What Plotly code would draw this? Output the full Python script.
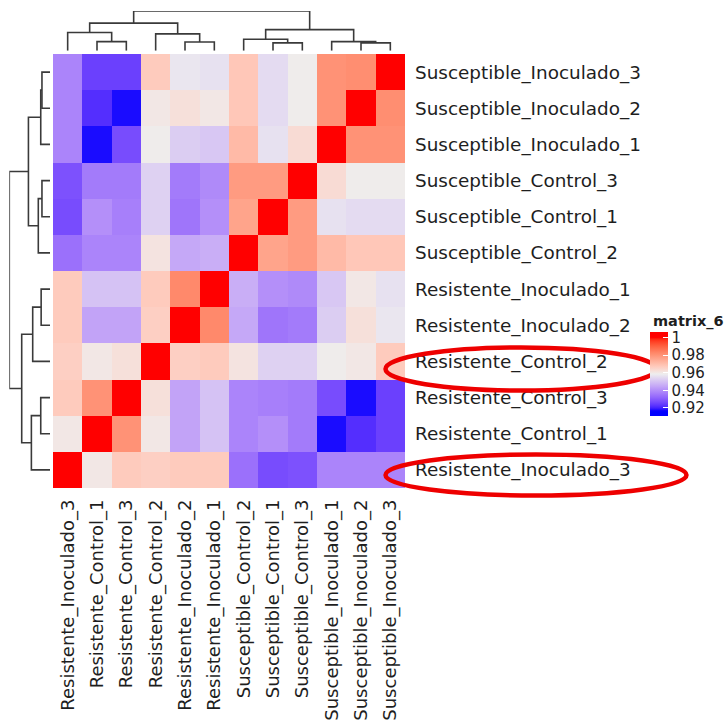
import numpy as np
import plotly.graph_objects as go

# ---------------- data ----------------
samples = [
    "Resistente_Inoculado_3", "Resistente_Control_1", "Resistente_Control_3",
    "Resistente_Control_2", "Resistente_Inoculado_2", "Resistente_Inoculado_1",
    "Susceptible_Control_2", "Susceptible_Control_1", "Susceptible_Control_3",
    "Susceptible_Inoculado_1", "Susceptible_Inoculado_2", "Susceptible_Inoculado_3",
]

# correlation rows, one per sample (same order as `samples`)
corr_rows = [
    [1.000, 0.960, 0.967, 0.966, 0.967, 0.967, 0.934, 0.927, 0.928, 0.938, 0.938, 0.938],
    [0.960, 1.000, 0.980, 0.960, 0.944, 0.950, 0.938, 0.940, 0.936, 0.918, 0.922, 0.925],
    [0.967, 0.980, 1.000, 0.962, 0.944, 0.950, 0.938, 0.937, 0.936, 0.927, 0.918, 0.925],
    [0.966, 0.960, 0.962, 1.000, 0.966, 0.967, 0.961, 0.953, 0.953, 0.959, 0.960, 0.967],
    [0.967, 0.944, 0.944, 0.966, 1.000, 0.982, 0.945, 0.935, 0.936, 0.952, 0.962, 0.957],
    [0.967, 0.950, 0.950, 0.967, 0.982, 1.000, 0.946, 0.940, 0.939, 0.951, 0.960, 0.956],
    [0.934, 0.938, 0.938, 0.961, 0.945, 0.946, 1.000, 0.976, 0.978, 0.971, 0.968, 0.968],
    [0.927, 0.940, 0.937, 0.953, 0.935, 0.940, 0.976, 1.000, 0.978, 0.956, 0.955, 0.955],
    [0.928, 0.936, 0.936, 0.953, 0.936, 0.939, 0.978, 0.978, 1.000, 0.963, 0.959, 0.959],
    [0.938, 0.918, 0.927, 0.959, 0.952, 0.951, 0.971, 0.956, 0.963, 1.000, 0.980, 0.980],
    [0.938, 0.922, 0.918, 0.960, 0.962, 0.960, 0.968, 0.955, 0.959, 0.980, 1.000, 0.981],
    [0.938, 0.925, 0.925, 0.967, 0.957, 0.956, 0.968, 0.955, 0.959, 0.980, 0.981, 1.000],
]

# hierarchical clustering merges: (left, right, height); "mN" = N-th merge
dendro_merges = [
    ("Resistente_Control_1", "Resistente_Control_3", 9.1),
    ("Resistente_Inoculado_3", "m0", 18.3),
    ("Resistente_Inoculado_2", "Resistente_Inoculado_1", 8.7),
    ("Resistente_Control_2", "m2", 17.0),
    ("m1", "m3", 27.8),
    ("Susceptible_Control_1", "Susceptible_Control_3", 7.9),
    ("Susceptible_Control_2", "m5", 11.5),
    ("Susceptible_Inoculado_2", "Susceptible_Inoculado_3", 7.9),
    ("Susceptible_Inoculado_1", "m7", 9.1),
    ("m6", "m8", 21.2),
    ("m4", "m9", 40.0),
]

legend_ticks = [0.92, 0.94, 0.96, 0.98, 1.0]
legend_ticktext = ["0.92", "0.94", "0.96", "0.98", "1"]
legend_title = "matrix_6"
color_min, color_max = 0.917, 1.0          # colour-mapping breaks
legend_min, legend_max = 0.9109, 1.0062    # extent of the legend bar

# ---------------- colour scale (LAB interpolation blue - #EEEEEE - red) ----------------
_M = np.array([[0.4124564, 0.3575761, 0.1804375],
               [0.2126729, 0.7151522, 0.0721750],
               [0.0193339, 0.1191920, 0.9503041]])
_W = np.array([0.95047, 1.0, 1.08883])


def to_lab(rgb):
    c = np.array(rgb, dtype=float) / 255
    lin = np.where(c <= 0.04045, c / 12.92, ((c + 0.055) / 1.055) ** 2.4)
    t = (_M @ lin) / _W
    f = np.where(t > 0.008856, np.cbrt(t), 7.787 * t + 16 / 116)
    return np.array([116 * f[1] - 16, 500 * (f[0] - f[1]), 200 * (f[1] - f[2])])


def from_lab(lab):
    L, a, b = lab
    fy = (L + 16) / 116
    f = np.array([fy + a / 500, fy, fy - b / 200])
    t = np.where(f ** 3 > 0.008856, f ** 3, (f - 16 / 116) / 7.787)
    lin = np.linalg.solve(_M, t * _W)
    lin = np.clip(lin, 0, 1)
    s = np.where(lin <= 0.0031308, 12.92 * lin, 1.055 * lin ** (1 / 2.4) - 0.055)
    s = np.clip(s, 0, 1) * 255
    return "rgb(%d,%d,%d)" % tuple(np.round(s).astype(int))


lab_blue, lab_mid, lab_red = to_lab((0, 0, 255)), to_lab((238, 238, 238)), to_lab((255, 0, 0))


def col_at(s):
    s = min(max(s, 0.0), 1.0)
    if s <= 0.5:
        lab = lab_blue + (lab_mid - lab_blue) * (s / 0.5)
    else:
        lab = lab_mid + (lab_red - lab_mid) * ((s - 0.5) / 0.5)
    return from_lab(lab)


colorscale = [[float(s), col_at(s)] for s in np.linspace(0, 1, 41)]

# legend colour scale over the (slightly wider) legend extent
legend_scale = []
for v in np.linspace(legend_min, legend_max, 61):
    s_leg = (v - legend_min) / (legend_max - legend_min)
    legend_scale.append([float(s_leg), col_at((v - color_min) / (color_max - color_min))])
legend_scale[0][0], legend_scale[-1][0] = 0.0, 1.0

# ---------------- matrix ----------------
z = np.array(corr_rows)
z = (z + z.T) / 2

# ---------------- dendrogram segments ----------------
pos = {name: float(i) for i, name in enumerate(samples)}
hgt = {name: 0.0 for name in samples}
seg_a, seg_h = [], []
for k, (l, r, h) in enumerate(dendro_merges):
    xl, xr = pos[l], pos[r]
    seg_a += [xl, xl, xr, xr, None]
    seg_h += [hgt[l], h, h, hgt[r], None]
    pos["m%d" % k] = (xl + xr) / 2
    hgt["m%d" % k] = h
root_h = dendro_merges[-1][2]

W, H = 725, 724
hx0, hx1 = 53 / W, 405 / W
hy0, hy1 = 1 - 488 / H, 1 - 54 / H
font = "DejaVu Sans"
txt = "#1e1e1e"
line_col = "#3a3a3a"

fig = go.Figure()
fig.add_trace(go.Heatmap(
    z=z, x=samples, y=samples, zmin=color_min, zmax=color_max,
    colorscale=colorscale, xaxis="x", yaxis="y", showscale=False,
    hovertemplate="%{y}<br>%{x}<br>%{z:.3f}<extra></extra>",
))
# legend-only trace (placed outside the visible range of the dendrogram axes)
fig.add_trace(go.Heatmap(
    z=[[legend_min, legend_max]], x=[100, 101], y=[100],
    zmin=legend_min, zmax=legend_max, colorscale=legend_scale,
    xaxis="x2", yaxis="y2", hoverinfo="skip",
    colorbar=dict(
        x=650 / W, xanchor="left", xpad=0, y=1 - 374 / H, yanchor="middle", ypad=0,
        lenmode="pixels", len=84, thickness=18, outlinewidth=0,
        tickvals=legend_ticks, ticktext=legend_ticktext,
        ticks="inside", ticklen=5, tickcolor="white", tickwidth=1,
        tickfont=dict(family=font, size=15, color=txt),
    ),
))
fig.add_trace(go.Scatter(x=seg_a, y=seg_h, mode="lines", xaxis="x2", yaxis="y2",
                         line=dict(color=line_col, width=1.6), hoverinfo="skip",
                         showlegend=False))
fig.add_trace(go.Scatter(x=seg_h, y=seg_a, mode="lines", xaxis="x3", yaxis="y3",
                         line=dict(color=line_col, width=1.6), hoverinfo="skip",
                         showlegend=False))

hidden = dict(showgrid=False, zeroline=False, showticklabels=False, ticks="",
              showline=False, fixedrange=True)
fig.update_layout(
    width=W, height=H, margin=dict(l=0, r=0, t=0, b=0),
    paper_bgcolor="white", plot_bgcolor="white", showlegend=False,
    font=dict(family=font, color=txt),
    xaxis=dict(domain=[hx0, hx1], tickangle=-90, showgrid=False, zeroline=False,
               ticks="", tickfont=dict(family=font, size=18, color=txt),
               ticklabelstandoff=7, range=[-0.5, 11.5]),
    yaxis=dict(domain=[hy0, hy1], side="right", showgrid=False, zeroline=False,
               ticks="", tickfont=dict(family=font, size=18.4, color=txt),
               ticklabelstandoff=9, range=[-0.5, 11.5]),
    xaxis2=dict(domain=[hx0, hx1], range=[-0.5, 11.5], anchor="y2", **hidden),
    yaxis2=dict(domain=[1 - 50.7 / H, 1 - 11 / H], range=[0, root_h], anchor="x2", **hidden),
    xaxis3=dict(domain=[9.3 / W, 50 / W], range=[root_h, 0], anchor="y3", **hidden),
    yaxis3=dict(domain=[hy0, hy1], range=[-0.5, 11.5], anchor="x3", **hidden),
    annotations=[
        dict(text="<b>%s</b>" % legend_title, xref="paper", yref="paper",
             x=651 / W, y=1 - 321.5 / H, xanchor="left", yanchor="middle",
             showarrow=False, font=dict(family=font, size=14.5, color=txt)),
    ],
    shapes=[
        dict(type="circle", xref="paper", yref="paper",
             x0=385.5 / W, x1=656.5 / W, y0=1 - 390.5 / H, y1=1 - 347.5 / H,
             line=dict(color="#ee0000", width=4.5)),
        dict(type="circle", xref="paper", yref="paper",
             x0=385.5 / W, x1=686.5 / W, y0=1 - 495.5 / H, y1=1 - 454.5 / H,
             line=dict(color="#ee0000", width=4.5)),
    ],
)

fig.write_html("out.html")
